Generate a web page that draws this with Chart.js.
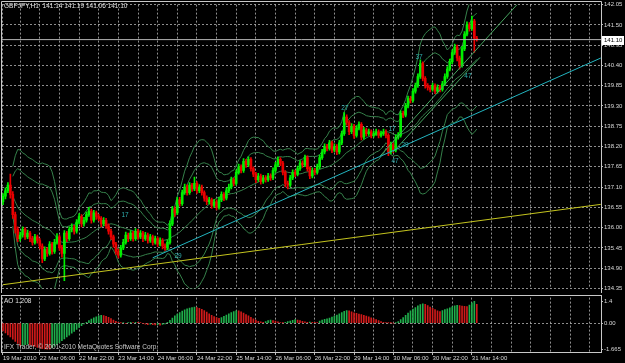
<!DOCTYPE html>
<html>
<head>
<meta charset="utf-8">
<script src="https://cdn.jsdelivr.net/npm/chart.js@4.4.1/dist/chart.umd.min.js"></script>
<style>
html, body { margin: 0; padding: 0; background: #000; }
#wrap { position: relative; width: 625px; height: 363px; background: #000; overflow: hidden; }
#main { position: absolute; left: 0; top: 0; }
#ao { position: absolute; left: 0; top: 293px; }
</style>
</head>
<body>
<div id="wrap">
  <canvas id="main" width="625" height="293"></canvas>
  <canvas id="ao" width="625" height="70"></canvas>
</div>
<script>
// GBPJPY H1 candles
const opens = [
  136.70,136.85,137.00,137.15,136.90,136.35,135.95,135.70,135.80,135.95,
  135.75,135.85,135.70,135.60,135.75,135.65,135.50,135.15,135.40,135.30,
  135.55,135.35,135.60,135.75,135.45,135.30,135.85,135.70,135.95,136.00,
  135.90,136.15,136.30,136.10,136.20,136.35,136.45,136.20,136.40,136.30,
  136.25,136.10,136.20,136.05,135.90,135.75,135.55,135.35,135.25,135.45,
  135.60,135.80,135.70,135.85,135.70,135.90,135.75,135.85,135.70,135.80,
  135.65,135.75,135.60,135.70,135.55,135.65,135.50,135.45,135.60,136.10,
  136.50,136.40,136.75,136.65,136.95,137.10,136.95,137.15,137.05,137.20,
  137.00,137.10,136.95,136.80,136.70,136.75,136.60,136.70,136.55,136.75,
  136.90,136.80,137.00,137.10,137.30,137.20,137.50,137.65,137.55,137.80,
  137.70,137.85,137.60,137.45,137.30,137.40,137.25,137.35,137.30,137.40,
  137.35,137.55,137.70,137.85,137.75,137.50,137.20,137.15,137.35,137.50,
  137.45,137.60,137.75,137.70,137.90,137.60,137.40,137.55,137.50,137.65,
  137.90,138.05,138.20,138.15,138.30,138.10,138.20,138.05,138.30,138.55,
  139.00,138.85,138.60,138.75,138.50,138.70,138.80,138.45,138.65,138.55,
  138.60,138.50,138.55,138.60,138.50,138.55,138.60,138.50,138.05,138.25,
  138.10,138.45,138.50,139.10,139.05,139.30,139.50,139.45,139.70,139.85,
  140.10,140.45,140.05,139.85,139.80,139.75,139.85,139.70,139.80,139.75,
  139.90,140.10,140.30,140.50,140.75,140.90,140.60,140.40,140.85,141.25,
  141.50,141.40,141.60,141.14
];
const highs = [
  136.92,137.08,137.22,137.45,136.98,136.42,136.02,135.88,136.02,136.00,
  135.93,135.90,135.76,135.82,135.80,135.70,135.56,135.48,135.46,135.62,
  135.60,135.68,135.84,135.80,135.52,135.92,135.90,136.02,136.10,136.06,
  136.22,136.38,136.35,136.28,136.42,136.55,136.50,136.47,136.45,136.36,
  136.30,136.27,136.25,136.10,135.96,135.80,135.60,135.42,135.52,135.68,
  135.88,135.85,135.92,135.90,135.97,135.95,135.92,135.90,135.87,135.85,
  135.82,135.80,135.77,135.75,135.72,135.70,135.56,135.67,136.18,136.58,
  136.56,136.82,136.82,137.02,137.18,137.16,137.22,137.20,137.37,137.25,
  137.17,137.15,137.00,136.86,136.82,136.80,136.77,136.75,136.82,136.97,
  136.95,137.07,137.18,137.37,137.35,137.57,137.72,137.70,137.87,137.85,
  137.92,137.90,137.65,137.50,137.47,137.45,137.42,137.41,137.47,137.46,
  137.62,137.77,137.92,137.90,137.80,137.55,137.26,137.42,137.57,137.56,
  137.67,137.82,137.81,137.97,137.95,137.65,137.62,137.61,137.72,137.97,
  138.12,138.27,138.26,138.37,138.35,138.27,138.25,138.37,138.62,139.12,
  139.06,138.90,138.82,138.80,138.77,138.87,138.85,138.72,138.70,138.67,
  138.65,138.62,138.67,138.65,138.62,138.67,138.65,138.55,138.32,138.30,
  138.52,138.58,139.17,139.16,139.37,139.57,139.56,139.77,139.92,140.17,
  140.55,140.50,140.10,139.91,139.86,139.92,139.90,139.87,139.86,139.97,
  140.17,140.37,140.57,140.82,140.98,140.95,140.65,140.92,141.32,141.58,
  141.56,141.74,141.65,141.19
];
const lows = [
  136.62,136.78,136.95,136.80,136.25,135.85,135.62,135.63,135.74,135.68,
  135.70,135.62,135.52,135.55,135.58,135.42,135.05,135.10,135.22,135.25,
  135.28,135.30,135.55,135.38,135.20,134.56,135.62,135.65,135.88,135.82,
  135.85,136.10,136.02,136.04,136.15,136.30,136.12,136.15,136.22,136.18,
  136.02,136.05,135.98,135.82,135.68,135.47,135.27,135.18,135.20,135.40,
  135.55,135.62,135.65,135.63,135.65,135.68,135.70,135.62,135.65,135.58,
  135.60,135.52,135.55,135.48,135.50,135.42,135.38,135.40,135.55,136.05,
  136.30,136.35,136.58,136.60,136.90,136.88,136.90,136.98,137.00,136.93,
  136.95,136.88,136.72,136.62,136.64,136.52,136.55,136.48,136.50,136.70,
  136.73,136.75,136.95,137.05,137.13,137.15,137.45,137.48,137.50,137.63,
  137.65,137.53,137.38,137.22,137.25,137.18,137.20,137.23,137.25,137.28,
  137.30,137.50,137.65,137.68,137.43,137.10,137.05,137.10,137.30,137.38,
  137.40,137.55,137.63,137.65,137.53,137.33,137.35,137.43,137.45,137.60,
  137.85,138.00,138.08,138.10,138.03,138.05,137.98,138.00,138.25,138.50,
  138.78,138.52,138.55,138.42,138.45,138.65,138.38,138.40,138.48,138.50,
  138.43,138.45,138.50,138.43,138.45,138.50,138.43,137.95,138.00,138.03,
  138.05,138.40,138.45,138.98,139.00,139.25,139.38,139.40,139.65,139.80,
  140.05,139.98,139.78,139.73,139.68,139.70,139.63,139.65,139.68,139.70,
  139.85,140.05,140.25,140.45,140.70,140.52,140.30,140.35,140.80,141.20,
  141.33,141.35,140.75,141.06
];
const closes = [
  136.85,137.00,137.15,136.90,136.35,135.95,135.70,135.80,135.95,135.75,
  135.85,135.70,135.60,135.75,135.65,135.50,135.15,135.40,135.30,135.55,
  135.35,135.60,135.75,135.45,135.30,135.85,135.70,135.95,136.00,135.90,
  136.15,136.30,136.10,136.20,136.35,136.45,136.20,136.40,136.30,136.25,
  136.10,136.20,136.05,135.90,135.75,135.55,135.35,135.25,135.45,135.60,
  135.80,135.70,135.85,135.70,135.90,135.75,135.85,135.70,135.80,135.65,
  135.75,135.60,135.70,135.55,135.65,135.50,135.45,135.60,136.10,136.50,
  136.40,136.75,136.65,136.95,137.10,136.95,137.15,137.05,137.20,137.00,
  137.10,136.95,136.80,136.70,136.75,136.60,136.70,136.55,136.75,136.90,
  136.80,137.00,137.10,137.30,137.20,137.50,137.65,137.55,137.80,137.70,
  137.85,137.60,137.45,137.30,137.40,137.25,137.35,137.30,137.40,137.35,
  137.55,137.70,137.85,137.75,137.50,137.20,137.15,137.35,137.50,137.45,
  137.60,137.75,137.70,137.90,137.60,137.40,137.55,137.50,137.65,137.90,
  138.05,138.20,138.15,138.30,138.10,138.20,138.05,138.30,138.55,139.00,
  138.85,138.60,138.75,138.50,138.70,138.80,138.45,138.65,138.55,138.60,
  138.50,138.55,138.60,138.50,138.55,138.60,138.50,138.05,138.25,138.10,
  138.45,138.50,139.10,139.05,139.30,139.50,139.45,139.70,139.85,140.10,
  140.45,140.05,139.85,139.80,139.75,139.85,139.70,139.80,139.75,139.90,
  140.10,140.30,140.50,140.75,140.90,140.60,140.40,140.85,141.25,141.50,
  141.40,141.60,141.14,141.10
];

// Awesome Oscillator histogram
const aoValues = [
  -0.50,-0.62,-0.75,-0.88,-1.02,-1.16,-1.30,-1.45,-1.42,-1.38,
  -1.35,-1.39,-1.44,-1.49,-1.54,-1.58,-1.62,-1.64,-1.655,-1.665,
  -1.58,-1.47,-1.36,-1.24,-1.12,-1.00,-0.88,-0.76,-0.64,-0.52,
  -0.40,-0.28,-0.16,-0.05,0.06,0.16,0.26,0.34,0.41,0.46,
  0.50,0.48,0.43,0.37,0.29,0.20,0.12,0.06,0.02,0.04,
  -0.02,0.03,0.05,0.04,0.06,0.05,0.03,-0.03,-0.06,-0.09,
  -0.07,-0.10,-0.12,-0.10,-0.13,-0.08,-0.05,0.05,0.18,0.33,
  0.46,0.58,0.68,0.77,0.85,0.91,0.96,1.00,1.02,1.00,
  0.95,0.88,0.80,0.70,0.60,0.50,0.42,0.35,0.31,0.36,
  0.44,0.52,0.60,0.68,0.74,0.79,0.78,0.72,0.64,0.55,
  0.46,0.37,0.28,0.19,0.12,0.08,0.05,0.10,0.16,0.20,
  0.17,0.13,0.09,0.04,0.02,0.06,0.10,0.14,0.18,0.22,
  0.20,0.16,0.12,0.08,0.06,0.07,0.06,0.05,0.04,0.14,
  0.20,0.24,0.28,0.32,0.38,0.45,0.52,0.60,0.68,0.76,
  0.80,0.78,0.72,0.66,0.62,0.58,0.55,0.50,0.45,0.40,
  0.34,0.28,0.22,0.16,0.10,0.06,0.03,0.02,0.01,0.00,
  0.02,0.10,0.22,0.35,0.50,0.64,0.78,0.90,1.00,1.10,
  1.18,1.23,1.20,1.12,1.02,0.94,0.86,0.78,0.74,0.80,
  0.86,0.92,0.98,1.04,1.10,1.14,1.12,1.09,1.07,1.05,
  1.15,1.30,1.40,1.208
];

// axes
const gridIdx = [0, 7, 15, 23, 31, 39, 47, 55, 63, 71, 79, 87, 95, 103, 111, 119,
  127, 135, 143, 151, 159, 167, 175, 183, 191, 199, 207, 215, 223, 231, 239];
const labelIdx = [0, 15, 31, 47, 63, 79, 95, 111, 127, 143, 159, 175, 191];
const tickLabels = ['19 Mar 2010', '22 Mar 06:00', '22 Mar 22:00', '23 Mar 14:00', '24 Mar 06:00',
  '24 Mar 22:00', '25 Mar 14:00', '26 Mar 06:00', '26 Mar 22:00', '29 Mar 14:00',
  '30 Mar 06:00', '30 Mar 22:00', '31 Mar 14:00'];
const priceTicks = [134.35, 134.90, 135.45, 136.00, 136.55, 137.10, 137.65, 138.20,
  138.75, 139.30, 139.85, 140.40, 140.95, 141.50, 142.05];
const aoTicks = [-1.665, 0, 1.4];
const aoTickText = ['-1.665', '0.00', '1.4'];

// drawn objects (bar index, price)
const yellowIdx = [0, 243.5];
const yellowPrice = [134.45, 136.63];
const cyanIdx = [61, 243.5];
const cyanPrice = [135.18, 140.60];
const greenAIdx = [153.6, 209.4];
const greenAPrice = [137.94, 142.05];
const greenBIdx = [158.9, 194.3];
const greenBPrice = [138.05, 140.62];
const markerIdx = [49.7, 71.3, 139.3, 158.5, 163.8, 159.7, 169.5, 189.4];
const markerPrice = [136.33, 135.23, 139.25, 138.66, 138.23, 137.81, 140.62, 140.11];
const markerText = ['17', '29', '27', '17', '29', '47', '37', '47'];

const xMin = -0.4, xMax = 243.6;
const fontFamily = '"Liberation Sans", Arial, sans-serif';
const textColor = '#d8d8d8';
const gridColor = 'rgba(190,190,190,0.75)';
const bandColor = '#35804a';
const upColor = '#00f000';
const downColor = '#ea0000';
const last = closes.length - 1;

// Bollinger envelopes from the closes (shorter window while history builds up)
function band(period, k) {
  return closes.map((c, i) => {
    if (i < 4) return {x: i, y: null};
    const from = Math.max(0, i - period + 1);
    const w = closes.slice(from, i + 1);
    const m = w.reduce((a, b) => a + b, 0) / w.length;
    const sd = Math.sqrt(w.reduce((a, b) => a + (b - m) * (b - m), 0) / w.length);
    return {x: i, y: m + k * sd};
  });
}

const seg = (xs, ys) => xs.map((v, i) => ({x: v, y: ys[i]}));
const lineDs = (data, color, order) => ({
  type: 'line', data, borderColor: color, borderWidth: 1, pointRadius: 0,
  tension: 0, order, spanGaps: false
});

function xAxis(showLabels) {
  return {
    type: 'linear', min: xMin, max: xMax, offset: false,
    afterBuildTicks: s => { s.ticks = gridIdx.map(v => ({value: v})); },
    afterFit: s => { s.height = showLabels ? 11 : 0; },
    grid: {
      color: gridColor, offset: false, drawTicks: showLabels, tickLength: 3,
      tickColor: c => (c.tick && labelIdx.includes(c.tick.value)) ? '#bbbbbb' : 'rgba(0,0,0,0)'
    },
    border: {display: false, dash: [2, 2]},
    ticks: {
      display: showLabels, autoSkip: false, maxRotation: 0, align: 'start', padding: 0,
      color: textColor, font: {size: 6, family: fontFamily},
      callback: v => { const k = labelIdx.indexOf(v); return k >= 0 ? tickLabels[k] : ''; }
    }
  };
}

const mainOverlay = {
  id: 'mainOverlay',
  afterDatasetsDraw(chart) {
    const {ctx, scales: {x, y}} = chart;
    ctx.save();
    ctx.font = '6.5px ' + fontFamily;
    ctx.fillStyle = '#2fb0b0';
    ctx.textAlign = 'center';
    ctx.textBaseline = 'middle';
    markerText.forEach((t, k) => {
      ctx.fillText(t, x.getPixelForValue(markerIdx[k]), y.getPixelForValue(markerPrice[k]));
    });
    ctx.restore();
  },
  afterDraw(chart) {
    const {ctx, chartArea, scales: {y}} = chart;
    ctx.save();
    ctx.strokeStyle = '#c8c8c8';
    ctx.lineWidth = 1;
    ctx.beginPath();
    ctx.moveTo(1.5, 293);
    ctx.lineTo(1.5, 1.5);
    ctx.lineTo(chartArea.right + 0.5, 1.5);
    ctx.lineTo(chartArea.right + 0.5, 293);
    ctx.stroke();
    ctx.font = '6.5px ' + fontFamily;
    ctx.fillStyle = '#e0e0e0';
    ctx.textBaseline = 'middle';
    ctx.fillText('GBPJPY,H1  ' + [opens[last], highs[last], lows[last], closes[last]].map(v => v.toFixed(2)).join(' '), 4, 6.5);
    const py = Math.round(y.getPixelForValue(closes[last]));
    ctx.fillStyle = '#ffffff';
    ctx.fillRect(602, py - 4, 22, 9);
    ctx.fillStyle = '#000000';
    ctx.font = '6px ' + fontFamily;
    ctx.fillText(closes[last].toFixed(2), 604, py + 0.5);
    ctx.restore();
  }
};

new Chart(document.getElementById('main').getContext('2d'), {
  type: 'bar',
  data: {
    datasets: [
      lineDs(seg([xMin, xMax], [closes[last], closes[last]]), '#b4b4b4', 0),
      lineDs(seg(yellowIdx, yellowPrice), '#c4c41e', 0),
      lineDs(seg(cyanIdx, cyanPrice), '#22b4bf', 0),
      lineDs(seg(greenAIdx, greenAPrice), '#45a35e', 0),
      lineDs(seg(greenBIdx, greenBPrice), '#45a35e', 0),
      {
        type: 'bar', order: 1, grouped: false, barThickness: 2, minBarLength: 1,
        data: closes.map((c, i) => ({x: i, y: [opens[i], c]})),
        backgroundColor: ctx => closes[ctx.dataIndex] >= opens[ctx.dataIndex] ? upColor : downColor
      },
      {
        type: 'bar', order: 2, grouped: false, barThickness: 1,
        data: closes.map((c, i) => ({x: i, y: [lows[i], highs[i]]})),
        backgroundColor: ctx => closes[ctx.dataIndex] >= opens[ctx.dataIndex] ? upColor : downColor
      },
      lineDs(band(20, 0), bandColor, 3),
      lineDs(band(20, 2), bandColor, 3),
      lineDs(band(20, -2), bandColor, 3),
      lineDs(band(20, 3), bandColor, 3),
      lineDs(band(20, -3), bandColor, 3)
    ]
  },
  options: {
    responsive: false,
    animation: false,
    events: [],
    layout: {padding: {left: 2, top: 3, bottom: 2, right: 0}},
    plugins: {legend: {display: false}, tooltip: {enabled: false}},
    scales: {
      x: xAxis(false),
      y: {
        position: 'right', min: 134.35, max: 142.05,
        afterBuildTicks: s => { s.ticks = priceTicks.map(v => ({value: v})); },
        afterFit: s => { s.width = 24; },
        grid: {color: gridColor, tickColor: '#bbbbbb', tickLength: 2},
        border: {display: false, dash: [2, 2]},
        ticks: {color: textColor, font: {size: 6, family: fontFamily}, padding: 1, callback: v => v.toFixed(2)}
      }
    }
  },
  plugins: [mainOverlay]
});

const aoOverlay = {
  id: 'aoOverlay',
  afterDraw(chart) {
    const {ctx, chartArea} = chart;
    ctx.save();
    ctx.strokeStyle = '#c8c8c8';
    ctx.lineWidth = 1;
    ctx.strokeRect(1.5, 2.5, chartArea.right - 1, chartArea.bottom - 2);
    ctx.font = '6.5px ' + fontFamily;
    ctx.textBaseline = 'middle';
    ctx.fillStyle = '#e0e0e0';
    ctx.fillText('AO ' + aoValues[aoValues.length - 1].toFixed(3), 4, 8);
    ctx.fillStyle = '#c8c8c8';
    ctx.fillText('IFX Trader, \u00a9 2001-2010 MetaQuotes Software Corp.', 4, 54);
    ctx.restore();
  }
};

new Chart(document.getElementById('ao').getContext('2d'), {
  type: 'bar',
  data: {
    datasets: [{
      grouped: false, barThickness: 1,
      data: aoValues.map((v, i) => ({x: i, y: v})),
      backgroundColor: ctx => {
        const i = ctx.dataIndex;
        return i > 0 && aoValues[i] >= aoValues[i - 1] ? '#1fae4b' : '#d01a1a';
      }
    }]
  },
  options: {
    responsive: false,
    animation: false,
    events: [],
    layout: {padding: {left: 2, top: 3, bottom: 0, right: 0}},
    plugins: {legend: {display: false}, tooltip: {enabled: false}},
    scales: {
      x: xAxis(true),
      y: {
        position: 'right', min: -1.84, max: 1.63,
        afterBuildTicks: s => { s.ticks = aoTicks.map(v => ({value: v})); },
        afterFit: s => { s.width = 24; },
        grid: {color: c => (c.tick && c.tick.value === 0) ? gridColor : 'rgba(0,0,0,0)', tickColor: '#bbbbbb', tickLength: 2},
        border: {display: false, dash: [2, 2]},
        ticks: {color: textColor, font: {size: 6, family: fontFamily}, padding: 1, callback: v => aoTickText[aoTicks.indexOf(v)]}
      }
    }
  },
  plugins: [aoOverlay]
});
</script>
</body>
</html>
